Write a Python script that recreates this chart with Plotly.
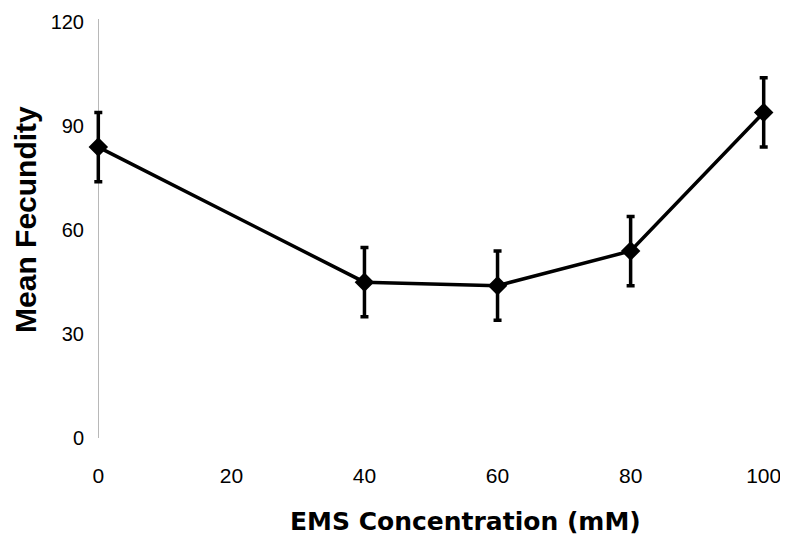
import plotly.graph_objects as go

conc = [0, 40, 60, 80, 100]
fecundity = [84, 45, 44, 54, 94]
err = [10, 10, 10, 10, 10]
x_ticks = [0, 20, 40, 60, 80, 100]
y_ticks = [0, 30, 60, 90, 120]
x_title = "EMS Concentration (mM)"
y_title = "Mean Fecundity"

fig = go.Figure()
fig.add_trace(go.Scatter(
    x=conc, y=fecundity, mode="lines+markers",
    line=dict(color="black", width=3.5),
    marker=dict(symbol="diamond", size=15, color="black"),
    error_y=dict(type="data", array=err, visible=True, color="black", thickness=3.5, width=4),
    cliponaxis=False, showlegend=False,
))

font = "Arial, Liberation Sans, sans-serif"
fig.update_layout(
    width=780, height=533,
    margin=dict(l=77, r=11, t=11, b=103),
    paper_bgcolor="white", plot_bgcolor="white",
    font=dict(family=font, color="black", size=18),
    xaxis=dict(
        range=[-2, 102], tickvals=x_ticks, ticktext=[str(v) for v in x_ticks],
        tickfont=dict(size=21),
        showgrid=False, showline=False,
        zeroline=True, zerolinecolor="#b8b8b8", zerolinewidth=1,
        ticks="outside", ticklen=19, tickcolor="rgba(0,0,0,0)",
        automargin=False,
    ),
    yaxis=dict(
        range=[0, 121], tickvals=y_ticks, ticktext=[str(v) for v in y_ticks],
        tickfont=dict(size=20),
        showgrid=False, zeroline=False, showline=False,
        ticks="", automargin=False,
    ),
    annotations=[
        dict(text="<b>" + x_title + "</b>", xref="paper", yref="paper",
             x=0.5 + 34 / 691.6, y=-83 / 419, xanchor="center", yanchor="middle",
             showarrow=False, font=dict(size=25, family="DejaVu Sans, sans-serif")),
        dict(text="<b>" + y_title + "</b>", xref="paper", yref="paper",
             x=-60 / 691.6, y=219 / 419, xanchor="center", yanchor="middle",
             textangle=-90, showarrow=False, font=dict(size=30)),
    ],
)
fig.write_html("out.html")
